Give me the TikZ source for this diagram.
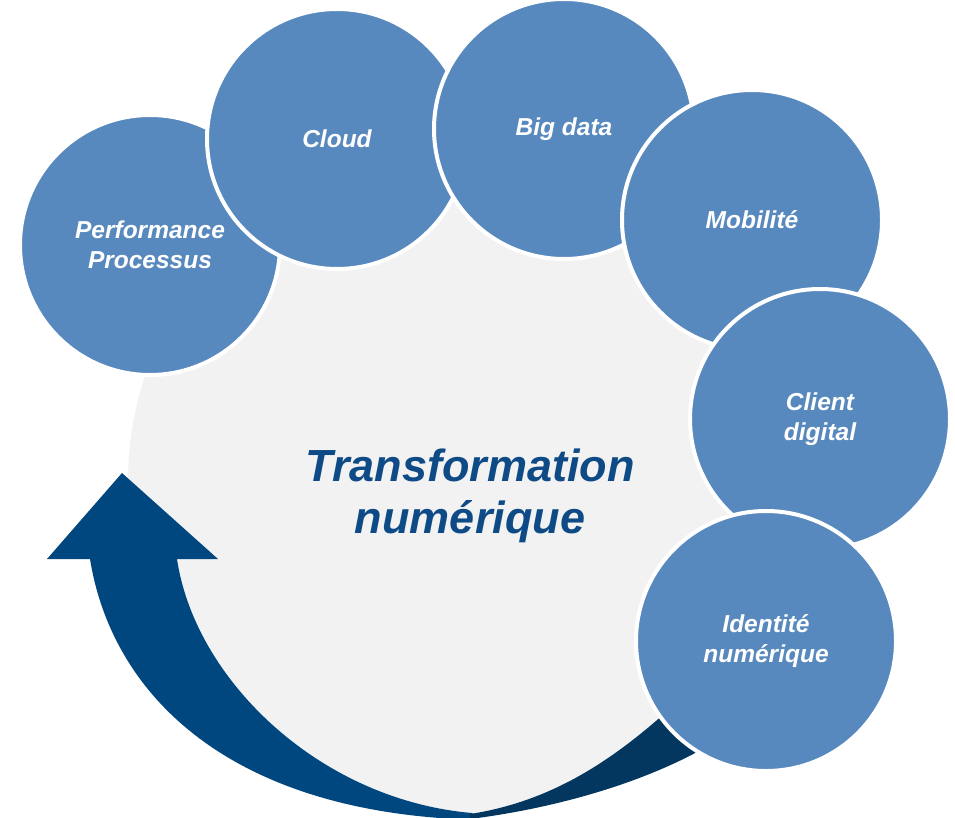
\documentclass[tikz,border=0pt]{standalone}
\usepackage{fontspec}
\setmainfont{Liberation Sans}
\definecolor{bubble}{HTML}{5889BE}
\definecolor{disc}{HTML}{F2F2F2}
\definecolor{arrowfront}{HTML}{00467F}
\definecolor{arrowback}{HTML}{03375F}
\definecolor{titleblue}{HTML}{0E4B86}
\begin{document}
\begin{tikzpicture}[x=1pt,y=-1pt,
  bubblenode/.style={circle, fill=bubble, draw=white, line width=4pt, minimum size=260pt, inner sep=0pt,
    text=white, align=center, font=\fontsize{24.5}{30}\selectfont\bfseries\itshape},
  discnode/.style={circle, fill=disc, minimum size=664pt, inner sep=0pt},
  titletext/.style={text=titleblue, align=center, font=\fontsize{45}{52}\selectfont\bfseries\itshape}]
\useasboundingbox (0,0) rectangle (955,817);
% big disc
\node[discnode] (disc) at (460,481) {};
% curved arrow, front part
\fill[arrowfront] (90,559) -- (47,559) -- (122,473) -- (218,559) -- (177,559)
  .. controls (195,680) and (320,800) .. (472,813)
  -- (482,820)
  .. controls (230,815) and (112,695) .. (90,559)
  -- cycle;
% curved arrow, back part (mostly hidden under the last bubble)
\fill[arrowback] (470,814) .. controls (560,800) and (625,752) .. (690,690)
  -- (740,725)
  .. controls (680,770) and (580,805) .. (470,819)
  -- cycle;
% bubbles
\node[bubblenode] (perf) at (150,245) {Performance\\Processus};
\node[bubblenode] (cloud) at (337,139) {Cloud};
\node[bubblenode] (bigdata) at (564,129) {Big data};
\node[bubblenode] (mobil) at (752,220) {Mobilité};
\node[bubblenode] (client) at (820,419) {Client\\digital};
\node[bubblenode] (ident) at (766,641) {Identité\\numérique};
% title
\node[titletext] (title) at (470,496) {Transformation\\numérique};
\end{tikzpicture}
\end{document}
